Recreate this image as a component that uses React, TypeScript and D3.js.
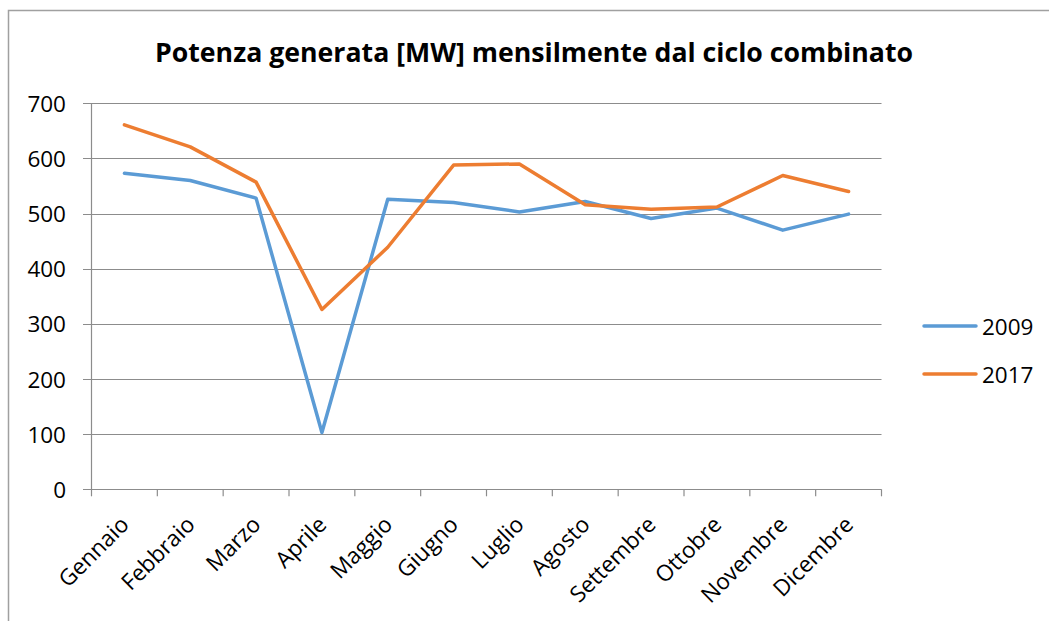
import React from "react";
import * as d3 from "d3";

const months = ["Gennaio","Febbraio","Marzo","Aprile","Maggio","Giugno","Luglio","Agosto","Settembre","Ottobre","Novembre","Dicembre"];
const values2009 = [573, 560, 528, 103, 526, 520, 503, 522, 491, 510, 470, 499];
const values2017 = [661, 621, 557, 326, 439, 588, 590, 516, 508, 512, 569, 540];
const yTicks = [0, 100, 200, 300, 400, 500, 600, 700];
const seriesNames = ["2009", "2017"];
const seriesColors = ["#5B9BD5", "#ED7D31"];
const title = "Potenza generata [MW] mensilmente dal ciclo combinato";

export default function App() {
  const W = 1049, H = 621;
  const x = d3.scaleBand<string>().domain(months).range([91.5, 881.5]).padding(0);
  const y = d3.scaleLinear().domain([0, 700]).range([489.3, 103.3]);
  const line = d3.line<number>()
    .x((_, i) => (x(months[i]) as number) + x.bandwidth() / 2)
    .y((v) => y(v));
  const series = [values2009, values2017];
  const font = "'Open Sans', sans-serif";
  const grid = "#8c8c8c";
  const tickXs = months.map((m) => x(m) as number).concat([881.5]);
  return (
    <svg width={W} height={H} style={{ position: "absolute", left: 0, top: 0 }} fontFamily={font}>
      <rect x={0} y={0} width={W} height={H} fill="#fff" />
      <rect x={8.5} y={10.5} width={W + 20} height={H + 20} fill="none" stroke="#a0a0a0" strokeWidth={1.5} />
      <text x={155} y={61.5} fontSize={27.5} fontWeight="bold" textLength={758} lengthAdjust="spacingAndGlyphs" fill="#000">{title}</text>
      {yTicks.map((t) => (
        <g key={t}>
          <line x1={83} x2={881.5} y1={Math.round(y(t)) + 0.5} y2={Math.round(y(t)) + 0.5} stroke={grid} strokeWidth={1.2} />
          <text x={66} y={y(t)} textAnchor="end" dominantBaseline="central" fontSize={22.5} fill="#000">{t}</text>
        </g>
      ))}
      <line x1={91.5} x2={91.5} y1={y(700)} y2={y(0)} stroke={grid} strokeWidth={1.2} />
      {tickXs.map((tx, i) => (
        <line key={i} x1={tx} x2={tx} y1={y(0)} y2={y(0) + 7} stroke={grid} strokeWidth={1.2} />
      ))}
      {months.map((m) => {
        const cx = (x(m) as number) + x.bandwidth() / 2;
        return (
          <text key={m} transform={`translate(${cx},${520}) rotate(-45)`} textAnchor="end" dominantBaseline="central" fontSize={22.5} fill="#000">{m}</text>
        );
      })}
      {series.map((s, i) => (
        <path key={i} d={line(s) || ""} fill="none" stroke={seriesColors[i]} strokeWidth={3.5} strokeLinejoin="round" strokeLinecap="round" />
      ))}
      {seriesNames.map((n, i) => {
        const ly = 326 + i * 48;
        return (
          <g key={n}>
            <line x1={924} x2={976} y1={ly} y2={ly} stroke={seriesColors[i]} strokeWidth={3.5} strokeLinecap="round" />
            <text x={982} y={ly} dominantBaseline="central" fontSize={22.5} fill="#000">{n}</text>
          </g>
        );
      })}
    </svg>
  );
}
